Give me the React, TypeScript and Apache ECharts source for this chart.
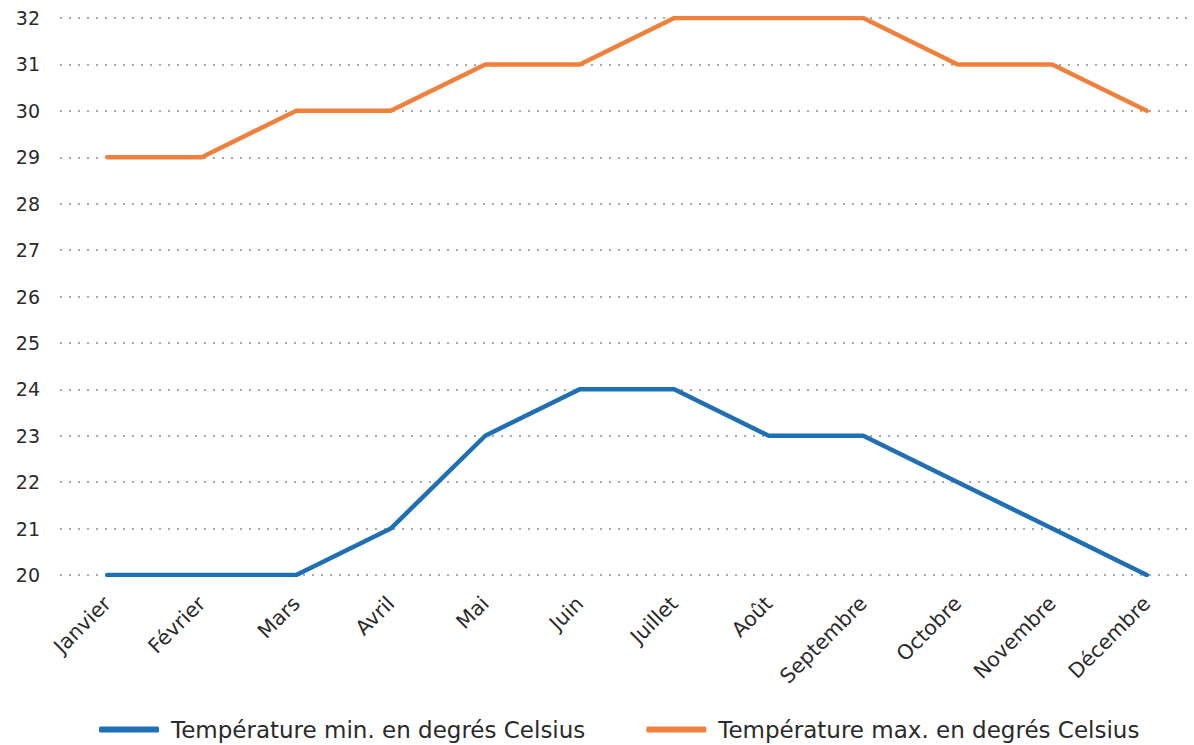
import React, { useEffect, useRef } from "react";
import * as echarts from "echarts";

const months = ["Janvier", "Février", "Mars", "Avril", "Mai", "Juin", "Juillet", "Août", "Septembre", "Octobre", "Novembre", "Décembre"];
const minTemps = [20, 20, 20, 21, 23, 24, 24, 23, 23, 22, 21, 20];
const maxTemps = [29, 29, 30, 30, 31, 31, 32, 32, 32, 31, 31, 30];
const minName = "Température min. en degrés Celsius";
const maxName = "Température max. en degrés Celsius";

const FONT = "'DejaVu Sans', 'Noto Sans', sans-serif";

export default function App() {
  const ref = useRef<HTMLDivElement>(null);
  useEffect(() => {
    if (!ref.current) return;
    const chart = echarts.init(ref.current, null, { renderer: "svg" });
    chart.setOption({
      animation: false,
      textStyle: { fontFamily: FONT },
      grid: { left: 60, right: -8, top: 18, bottom: 170, containLabel: false },
      legend: {
        bottom: -1,
        left: 94,
        itemWidth: 60,
        itemHeight: 6,
        itemGap: 61,
        icon: "roundRect",
        formatter: (n: string) => "{t|" + n + "}",
        textStyle: {
          fontSize: 23,
          color: "#2a2a2a",
          fontFamily: FONT,
          rich: { t: { fontSize: 23, color: "#2a2a2a", fontFamily: FONT, padding: [0, 0, 0, 7] } },
        },
        data: [minName, maxName],
      },
      xAxis: {
        type: "category",
        data: months,
        boundaryGap: true,
        axisLine: { show: false },
        axisTick: { show: false },
        axisLabel: { rotate: 45, fontSize: 20.5, color: "#2a2a2a", margin: 25, interval: 0 },
      },
      yAxis: {
        type: "value",
        min: 20,
        max: 32,
        interval: 1,
        axisLine: { show: false },
        axisTick: { show: false },
        axisLabel: { fontSize: 19, color: "#2a2a2a", margin: 20 },
        splitLine: { lineStyle: { type: [2, 7], width: 2, color: "#a8a8a8" } },
      },
      series: [
        {
          name: minName,
          type: "line",
          data: minTemps,
          showSymbol: false,
          symbol: "none",
          lineStyle: { width: 4.5, color: "#1f6fb5", cap: "round" },
          itemStyle: { color: "#1f6fb5" },
        },
        {
          name: maxName,
          type: "line",
          data: maxTemps,
          showSymbol: false,
          symbol: "none",
          lineStyle: { width: 4.5, color: "#ef813d", cap: "round" },
          itemStyle: { color: "#ef813d" },
        },
      ],
    });
    return () => chart.dispose();
  }, []);
  return <div ref={ref} style={{ position: "absolute", left: 0, top: 0, width: 1194, height: 745 }} />;
}
